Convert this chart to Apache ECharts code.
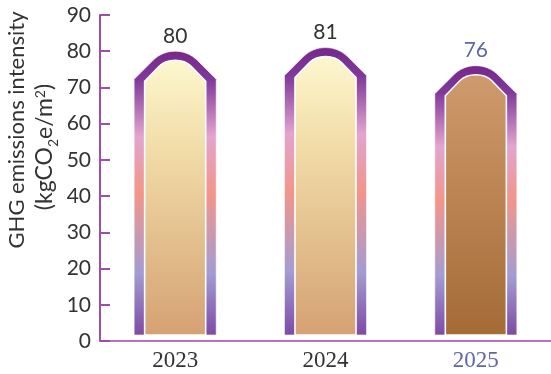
<!DOCTYPE html>
<html>
<head>
<meta charset="utf-8">
<script src="https://cdn.jsdelivr.net/npm/echarts@6/dist/echarts.min.js"></script>
<style>
  html, body { margin: 0; padding: 0; background: #ffffff; }
  #chart { width: 551px; height: 374px; }
</style>
</head>
<body>
<div id="chart"></div>
<script>
// GHG emissions intensity by reporting year
const years = ['2023', '2024', '2025'];
const intensity = [80, 81, 76];
const yTicks = { min: 0, max: 90, step: 10 };

const chart = echarts.init(document.getElementById('chart'), null, { renderer: 'canvas' });

const latest = years.length - 1;
const labelDark = '#333333';
const labelAccent = '#5f66aa';

// Arched frame: purple at the crown, pink, coral, lavender, purple at the foot
const frameFill = () => new echarts.graphic.LinearGradient(0, 0, 0, 1, [
  { offset: 0.00, color: '#76278a' },
  { offset: 0.10, color: '#80399a' },
  { offset: 0.30, color: '#e2a4cf' },
  { offset: 0.50, color: '#f3958b' },
  { offset: 0.78, color: '#a39cd2' },
  { offset: 1.00, color: '#7d4aa5' }
]);
const innerFill = (accent) => new echarts.graphic.LinearGradient(0, 0, 0, 1, accent ? [
  { offset: 0, color: '#cf9a6d' },
  { offset: 0.35, color: '#c08958' },
  { offset: 1, color: '#a46b37' }
] : [
  { offset: 0, color: '#fdf7cf' },
  { offset: 0.3, color: '#f2deaa' },
  { offset: 1, color: '#d5a173' }
]);

function archPath(cx, top, base, half, shoulder, chamferX, chamferY, ctrlX, ctrlY) {
  return 'M' + (cx - half) + ',' + base +
    ' L' + (cx - half) + ',' + (top + shoulder) +
    ' L' + (cx - chamferX) + ',' + (top + chamferY) +
    ' C' + (cx - ctrlX) + ',' + (top + ctrlY) + ' ' + (cx + ctrlX) + ',' + (top + ctrlY) + ' ' + (cx + chamferX) + ',' + (top + chamferY) +
    ' L' + (cx + half) + ',' + (top + shoulder) +
    ' L' + (cx + half) + ',' + base + ' Z';
}

function renderArch(params, api) {
  const idx = api.value(0);
  const val = api.value(1);
  const topPt = api.coord([idx, val]);
  const basePt = api.coord([idx, 0]);
  const band = api.size([1, 0])[0];
  const cx = topPt[0];
  const top = topPt[1];
  const base = basePt[1] - 6;
  const half = band * 0.273;
  const innerHalf = band * 0.203;
  const accent = idx === latest;
  return {
    type: 'group',
    children: [
      {
        type: 'path',
        shape: { pathData: archPath(cx, top, base, half, 28, half - 19, 9, 10, -3) },
        style: { fill: frameFill(), stroke: 'rgba(255,255,255,0.6)', lineWidth: 1 }
      },
      {
        type: 'path',
        shape: { pathData: archPath(cx, top + 9, base, innerHalf, 21, 16, 6, 8, -2) },
        style: { fill: innerFill(accent), stroke: '#ffffff', lineWidth: 1.6 }
      },
      {
        type: 'text',
        style: {
          text: String(val),
          x: cx, y: top - 15,
          align: 'center', verticalAlign: 'middle',
          fontFamily: 'Lato', fontSize: 21,
          fill: accent ? labelAccent : labelDark
        }
      }
    ]
  };
}

chart.setOption({
  backgroundColor: '#ffffff',
  animation: false,
  grid: { left: 100, right: 0, top: 15, bottom: 33, containLabel: false },
  xAxis: {
    type: 'category',
    data: years,
    axisLine: { lineStyle: { color: '#b574bd', width: 2 } },
    axisTick: { show: false },
    axisLabel: {
      margin: 8,
      fontFamily: 'Liberation Serif',
      fontSize: 23,
      color: (value, index) => index === latest ? labelAccent : labelDark
    }
  },
  yAxis: {
    type: 'value',
    min: yTicks.min, max: yTicks.max, interval: yTicks.step,
    splitLine: { show: false },
    axisLine: { show: true, lineStyle: { color: '#9c4ea8', width: 2 } },
    axisTick: { show: true, inside: true, length: 10, lineStyle: { color: '#9c4ea8', width: 2 } },
    axisLabel: { margin: 9, fontFamily: 'Lato', fontSize: 21, color: labelDark }
  },
  graphic: [
    {
      type: 'text', x: 17, y: 130, rotation: Math.PI / 2,
      style: {
        text: 'GHG emissions intensity',
        align: 'center', verticalAlign: 'middle',
        fontFamily: 'Lato', fontSize: 22, fill: labelDark
      }
    },
    {
      type: 'text', x: 45, y: 147, rotation: Math.PI / 2,
      style: {
        text: '(kgCO{sub|2}e/m{sup|2})',
        align: 'center', verticalAlign: 'middle',
        fontFamily: 'Lato', fontSize: 23, fill: labelDark,
        rich: {
          sub: { fontFamily: 'Lato', fontSize: 14, verticalAlign: 'bottom', fill: labelDark, padding: [0, 0, -4, 0] },
          sup: { fontFamily: 'Lato', fontSize: 14, verticalAlign: 'top', fill: labelDark }
        }
      }
    }
  ],
  series: [{
    type: 'custom',
    renderItem: renderArch,
    encode: { x: 0, y: 1 },
    data: intensity.map((v, i) => [i, v]),
    z: 3
  }]
});
</script>
</body>
</html>
